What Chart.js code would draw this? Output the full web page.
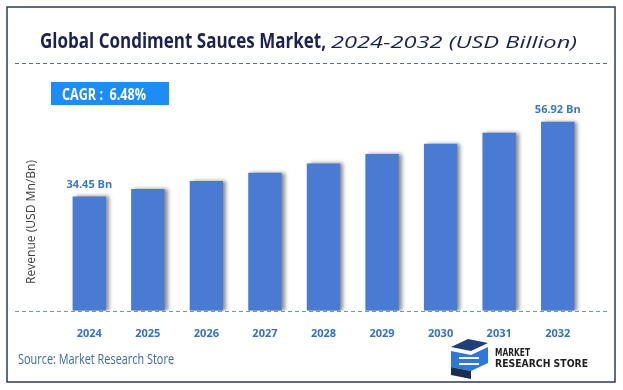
<!DOCTYPE html>
<html>
<head>
<meta charset="utf-8">
<script src="https://cdn.jsdelivr.net/npm/chart.js@4.4.1/dist/chart.umd.min.js"></script>
<style>
  html, body { margin: 0; padding: 0; background: #fff; }
  #wrap { width: 623px; height: 390px; position: relative; }
</style>
</head>
<body>
<div id="wrap"><canvas id="chart" width="623" height="390"></canvas></div>
<script>
// 차트 데이터
const years = ['2024', '2025', '2026', '2027', '2028', '2029', '2030', '2031', '2032'];
const revenue = [34.45, 36.7, 39.1, 41.6, 44.4, 47.2, 50.3, 53.6, 56.92];
const shownLabels = ['34.45 Bn', '', '', '', '', '', '', '', '56.92 Bn'];

const titleMain = 'Global Condiment Sauces Market,';
const titleSub = '2024-2032 (USD Billion)';
const cagrText = 'CAGR :  6.48%';
const sourceText = 'Source: Market Research Store';
const yTitle = 'Revenue (USD Mn/Bn)';

const FONT = "'Open Sans', 'Noto Sans', sans-serif";

// 글자 높이는 유지하고 가로 폭만 맞춰서 그리기
function fillFit(ctx, text, x, y, font, targetWidth) {
    ctx.font = font;
    const w = ctx.measureText(text).width;
    ctx.save();
    ctx.translate(x, y);
    ctx.scale(targetWidth / w, 1);
    ctx.fillText(text, 0, 0);
    ctx.restore();
}

// 배경 장식 (제목, 테두리, 점선, 로고 등)
const decorPlugin = {
    id: 'decor',
    beforeDraw(chart) {
        const ctx = chart.ctx;
        ctx.save();
        ctx.fillStyle = '#fff';
        ctx.fillRect(0, 0, 623, 390);

        // 테두리
        ctx.strokeStyle = '#2b3a5a';
        ctx.lineWidth = 1.5;
        ctx.strokeRect(7, 7, 608, 375);

        // 제목
        ctx.textBaseline = 'alphabetic';
        ctx.textAlign = 'left';
        ctx.fillStyle = '#1b2250';
        fillFit(ctx, titleMain, 40, 48, `bold 21px ${FONT}`, 286);
        fillFit(ctx, titleSub, 331, 48, `italic 16px ${FONT}`, 246);

        // 상단 점선
        ctx.setLineDash([4, 3]);
        ctx.strokeStyle = '#3d6fc8';
        ctx.lineWidth = 1;
        ctx.beginPath();
        ctx.moveTo(15, 63.5);
        ctx.lineTo(607, 63.5);
        ctx.stroke();
        ctx.setLineDash([]);

        // CAGR 박스
        ctx.fillStyle = '#1e8cf5';
        ctx.fillRect(51, 82, 118, 23);
        ctx.fillStyle = '#fff';
        ctx.textBaseline = 'alphabetic';
        fillFit(ctx, cagrText, 62, 100, `bold 16px ${FONT}`, 84);

        // y축 제목
        ctx.save();
        ctx.translate(35, 284);
        ctx.rotate(-Math.PI / 2);
        ctx.fillStyle = '#404040';
        fillFit(ctx, yTitle, 0, 0, `12px ${FONT}`, 124);
        ctx.restore();

        // 출처
        ctx.fillStyle = '#3a6aa5';
        fillFit(ctx, sourceText, 18, 364, `14px ${FONT}`, 156);

        // 로고 (간단히)
        ctx.fillStyle = '#1f3f7a';
        ctx.beginPath();
        ctx.moveTo(451, 347); ctx.lineTo(468, 339); ctx.lineTo(488, 343); ctx.lineTo(471, 351); ctx.closePath();
        ctx.fill();
        ctx.fillStyle = '#2d7ad6';
        ctx.beginPath();
        ctx.moveTo(451, 351); ctx.lineTo(471, 355); ctx.lineTo(488, 347); ctx.lineTo(488, 363); ctx.lineTo(471, 371); ctx.lineTo(451, 367); ctx.closePath();
        ctx.fill();
        ctx.fillStyle = '#1a2d55';
        ctx.beginPath();
        ctx.moveTo(451, 367); ctx.lineTo(471, 371); ctx.lineTo(471, 379); ctx.lineTo(451, 375); ctx.closePath();
        ctx.fill();
        ctx.fillStyle = '#ffffff';
        ctx.fillRect(459, 357, 20, 2);
        ctx.fillRect(459, 363, 20, 2);

        ctx.fillStyle = '#1e1e1e';
        ctx.textBaseline = 'alphabetic';
        const logoFont = "bold 10.5px 'DejaVu Sans Condensed', 'Liberation Sans Narrow', sans-serif";
        fillFit(ctx, 'MARKET', 495, 356, logoFont, 35);
        fillFit(ctx, 'RESEARCH STORE', 495, 367, logoFont, 93);
        ctx.restore();
    },
    beforeDatasetsDraw(chart) {
        const ctx = chart.ctx;
        ctx.save();
        ctx.shadowColor = 'rgba(0,0,0,0.45)';
        ctx.shadowOffsetX = 3;
        ctx.shadowOffsetY = 0;
        ctx.shadowBlur = 4;
    },
    afterDatasetsDraw(chart) {
        const ctx = chart.ctx;
        ctx.restore();

        // 기준 점선
        const area = chart.chartArea;
        ctx.save();
        ctx.setLineDash([4, 3]);
        ctx.strokeStyle = '#6b90d6';
        ctx.lineWidth = 1;
        ctx.beginPath();
        ctx.moveTo(15, Math.round(area.bottom) + 0.5);
        ctx.lineTo(607, Math.round(area.bottom) + 0.5);
        ctx.stroke();
        ctx.setLineDash([]);

        // 값 라벨
        const meta = chart.getDatasetMeta(0);
        ctx.fillStyle = '#3b78c0';
        ctx.font = `bold 11px ${FONT}`;
        ctx.textAlign = 'center';
        ctx.textBaseline = 'bottom';
        meta.data.forEach((bar, i) => {
            if (shownLabels[i]) ctx.fillText(shownLabels[i], bar.x, bar.y - 6);
        });
        ctx.restore();
    }
};

function init() {
    const ctx = document.getElementById('chart').getContext('2d');
    new Chart(ctx, {
        type: 'bar',
        data: {
            labels: years,
            datasets: [{
                data: revenue,
                backgroundColor: '#4a7bd2',
                borderWidth: 0,
                barPercentage: 0.57,
                categoryPercentage: 1
            }]
        },
        options: {
            responsive: false,
            animation: false,
            events: [],
            layout: { padding: { left: 60, right: 36, top: 95, bottom: 42 } },
            plugins: {
                legend: { display: false },
                tooltip: { enabled: false }
            },
            scales: {
                x: {
                    grid: { display: false },
                    border: { display: false },
                    ticks: {
                        color: '#3471be',
                        font: { family: FONT, size: 11, weight: 'bold' },
                        padding: 8
                    }
                },
                y: {
                    display: false,
                    min: 0,
                    max: 65
                }
            }
        },
        plugins: [decorPlugin]
    });
}

init();
</script>
</body>
</html>
